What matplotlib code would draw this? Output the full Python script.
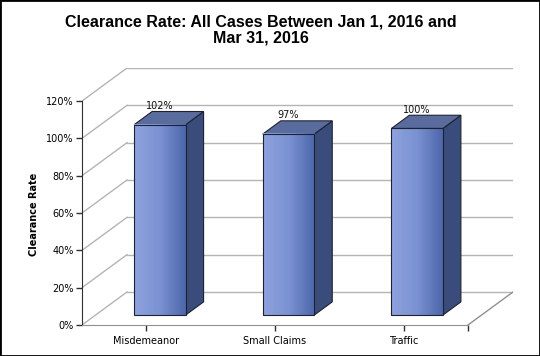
import numpy as np
import matplotlib
matplotlib.use("Agg")
import matplotlib.pyplot as plt
from matplotlib.patches import Polygon, Rectangle
from matplotlib.colors import LinearSegmentedColormap

# ---- data ----
categories = ["Misdemeanor", "Small Claims", "Traffic"]
values = [102, 97, 100]
labels = ["102%", "97%", "100%"]
yticks = [0, 20, 40, 60, 80, 100, 120]
ytick_labels = ["0%", "20%", "40%", "60%", "80%", "100%", "120%"]
title = "Clearance Rate: All Cases Between Jan 1, 2016 and\nMar 31, 2016"
ylabel = "Clearance Rate"

# ---- 3D-ish geometry (in data units) ----
DX, DY = 0.35, 17.7      # full depth offset of the box
D0, BD = 0.30, 0.40      # bar front depth and bar depth (fractions)
BW = 0.40                # bar width
YMAX = 120
N = len(categories)

fig = plt.figure(figsize=(5.4, 3.56), dpi=100)
fig.patch.set_facecolor("white")
ax = fig.add_axes([82/540, 1-325/356, 431/540, 257/356])
ax.set_xlim(0, N + DX)
ax.set_ylim(0, YMAX + DY)
ax.patch.set_alpha(0)

grid_c = "#b4b4b4"
# back wall gridlines and left wall diagonals
for t in yticks:
    ax.plot([DX, N + DX], [t + DY, t + DY], color=grid_c, lw=1, zorder=1)
    ax.plot([0, DX], [t, t + DY], color=grid_c, lw=1, zorder=1)
# floor right edge
ax.plot([N, N + DX], [0, DY], color="#909090", lw=1, zorder=1)

cmap = LinearSegmentedColormap.from_list("front", ["#8fa3de", "#7a92d2", "#4c66aa"])
grad = np.linspace(0, 1, 256).reshape(1, -1)
edge = "#1e2230"

for i, v in enumerate(values):
    x0 = i + 0.5 - BW / 2 + DX * D0
    x1 = x0 + BW
    yb = DY * D0
    yt = v + DY * D0
    ddx, ddy = DX * BD, DY * BD
    # side face
    ax.add_patch(Polygon([(x1, yb), (x1 + ddx, yb + ddy), (x1 + ddx, yt + ddy), (x1, yt)],
                         closed=True, facecolor="#3a4c7c", edgecolor=edge, lw=0.8, zorder=3))
    # top face
    ax.add_patch(Polygon([(x0, yt), (x1, yt), (x1 + ddx, yt + ddy), (x0 + ddx, yt + ddy)],
                         closed=True, facecolor="#5a6c9e", edgecolor=edge, lw=0.8, zorder=3))
    # front face with gradient
    ax.imshow(grad, cmap=cmap, extent=(x0, x1, yb, yt), aspect="auto", zorder=4,
              interpolation="bilinear")
    ax.add_patch(Rectangle((x0, yb), BW, v, facecolor="none", edgecolor=edge, lw=0.8, zorder=5))
    # data label
    ax.annotate(labels[i], (i + 0.5 + DX * D0, yt + ddy), xytext=(0, 0.5),
                textcoords="offset points", ha="center", va="bottom",
                fontsize=7, color="#111111", zorder=6)

ax.set_xlim(0, N + DX)
ax.set_ylim(0, YMAX + DY)

# axes
for s in ["top", "right"]:
    ax.spines[s].set_visible(False)
ax.spines["left"].set_bounds(0, YMAX)
ax.spines["left"].set_color("#303030")
ax.spines["bottom"].set_bounds(0, N)
ax.spines["bottom"].set_color("#909090")
ax.set_yticks(yticks)
ax.set_yticklabels(ytick_labels)
ax.set_xticks([i + 0.5 for i in range(N)])
ax.set_xticklabels(categories)
ax.set_xticks([N], minor=True)
ax.tick_params(axis="y", direction="out", length=4, width=1, color="#303030",
               labelsize=7, pad=2)
ax.tick_params(axis="x", which="both", direction="out", length=4, width=1, color="#303030",
               labelsize=7, pad=4)

fig.text(34/540, 1 - 214/356, ylabel, rotation=90, ha="center", va="center",
         fontsize=7, fontweight="bold")
fig.text(261/540, 1 - 30/356, title, ha="center", va="center", fontsize=11.5,
         fontweight="bold", family="Liberation Sans", linespacing=1.15)

# outer border
fig.add_artist(Rectangle((0, 0), 1, 1, transform=fig.transFigure, fill=False,
                         edgecolor="black", lw=2))

fig.savefig("out.png", dpi=100)
